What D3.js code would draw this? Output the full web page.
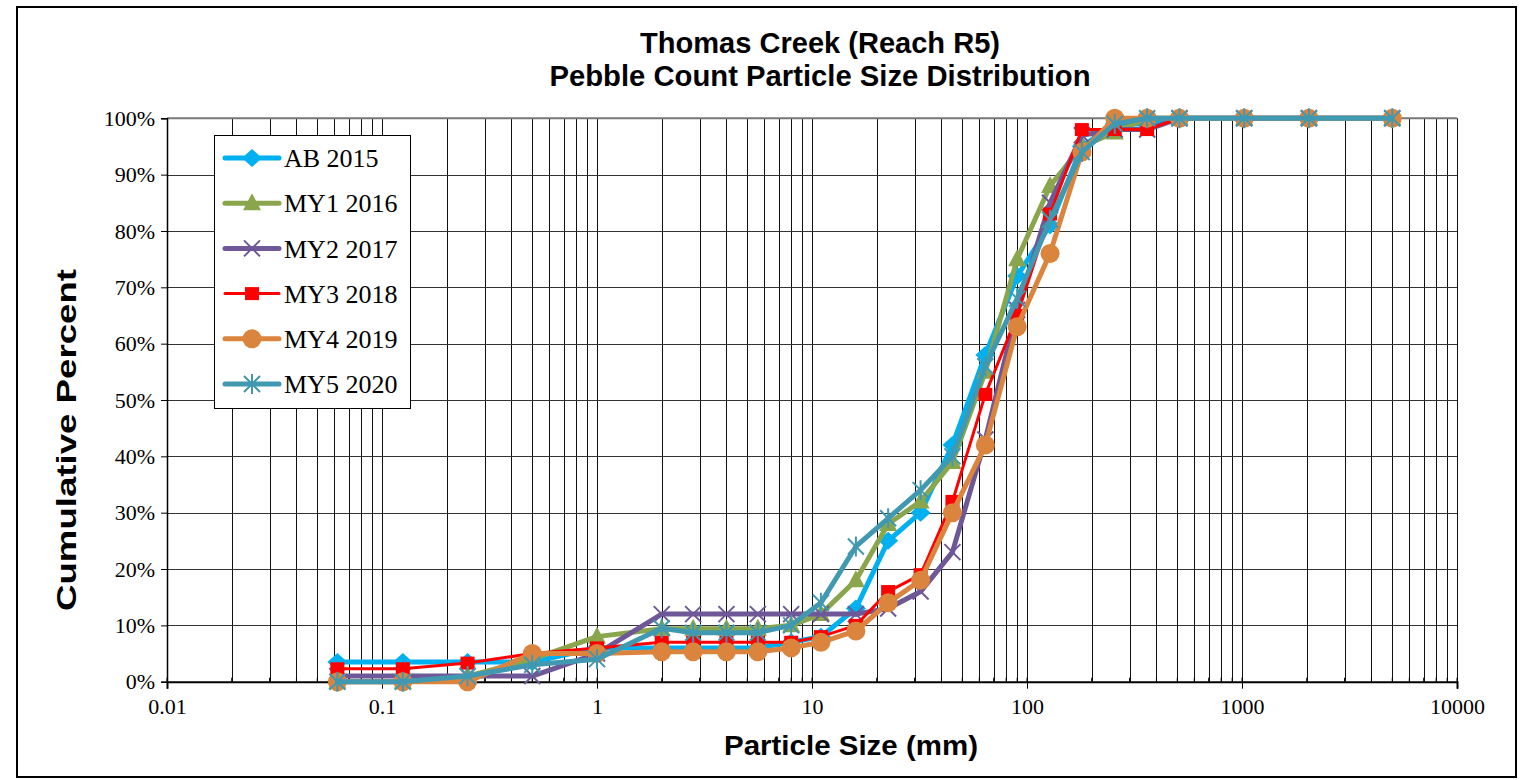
<!DOCTYPE html>
<html>
<head>
<meta charset="utf-8">
<script src="https://cdn.jsdelivr.net/npm/d3@7"></script>
<style>
  html, body { margin: 0; padding: 0; background: #fff; }
  svg { display: block; }
</style>
</head>
<body>
<svg id="chart" width="1523" height="780"></svg>
<script>
// ---------- DATA ----------
const title1 = "Thomas Creek (Reach R5)";
const title2 = "Pebble Count Particle Size Distribution";
const xTitle = "Particle Size (mm)";
const yTitle = "Cumulative Percent";

const sizes = [0.062, 0.125, 0.25, 0.5, 1, 2, 2.8, 4, 5.6, 8, 11, 16, 22.6, 32, 45, 64, 90, 128, 180, 256, 362, 512, 1024, 2048, 5000];

const seriesNames = ["AB 2015", "MY1 2016", "MY2 2017", "MY3 2018", "MY4 2019", "MY5 2020"];

const ab2015  = [3.5, 3.5, 3.5, 3.5, 6, 6, 6, 6, 6, 7, 8, 13, 25, 30, 42, 58, 72, 81, 95, 99, 99, 100, 100, 100, 100];
const my12016 = [0, 0, 1, 4, 8, 9.4, 9.4, 9.4, 9.4, 10, 12, 18, 28, 32, 39, 55, 75, 88, 95, 97.5, 100, 100, 100, 100, 100];
const my22017 = [1, 1, 1, 1, 5, 12, 12, 12, 12, 12, 12, 12, 13, 16, 23, 43, 66, 85, 97, 98, 98, 100, 100, 100, 100];
const my32018 = [2.3, 2.3, 3.3, 5, 6, 7, 7, 7, 7, 7, 8, 10, 16, 19, 32, 51, 65, 83, 98, 98, 98, 100, 100, 100, 100];
const my42019 = [0, 0, 0, 5, 5, 5.3, 5.3, 5.3, 5.3, 6, 7, 9, 14, 18, 30, 42, 63, 76, 94, 100, 100, 100, 100, 100, 100];
const my52020 = [0, 0, 1, 3, 4, 9.5, 8.7, 8.7, 8.7, 10, 14, 24, 29, 34, 40, 56, 68, 82, 94, 99, 100, 100, 100, 100, 100];

const xTickValues = [0.01, 0.1, 1, 10, 100, 1000, 10000];
const xTickLabels = ["0.01", "0.1", "1", "10", "100", "1000", "10000"];
const yTickValues = [0, 10, 20, 30, 40, 50, 60, 70, 80, 90, 100];
const yTickLabels = ["0%", "10%", "20%", "30%", "40%", "50%", "60%", "70%", "80%", "90%", "100%"];

(function () {
// ---------- STYLE ----------
const styles = [
  { color: "#00B0F0", width: 5, marker: "diamond" },
  { color: "#8AA64C", width: 5, marker: "triangle" },
  { color: "#6F5897", width: 5, marker: "x" },
  { color: "#FF0000", width: 3, marker: "square" },
  { color: "#DB843D", width: 5, marker: "circle" },
  { color: "#4099B1", width: 5, marker: "star" }
];
const allValues = [ab2015, my12016, my22017, my32018, my42019, my52020];

const svg = d3.select("#chart");
const serif = "'Liberation Serif', 'Times New Roman', serif";
const sans = "'Liberation Sans', Arial, sans-serif";

const pLeft = 167, pRight = 1457, pTop = 118.3, pBottom = 681.7;
const x = d3.scaleLog().domain([0.01, 10000]).range([pLeft, pRight]);
const y = d3.scaleLinear().domain([0, 100]).range([pBottom, pTop]);

// outer frame
svg.append("rect").attr("x", 17).attr("y", 7).attr("width", 1499).attr("height", 770)
  .attr("fill", "#fff").attr("stroke", "#000").attr("stroke-width", 2);

// gridlines
const minorVals = [];
for (let e = -2; e < 4; e++) for (let m = 1; m <= 9; m++) minorVals.push(m * Math.pow(10, e));
minorVals.push(10000);
const grid = svg.append("g");
grid.selectAll("line.v").data(minorVals).join("line")
  .attr("x1", d => Math.round(x(d)) + 0.5).attr("x2", d => Math.round(x(d)) + 0.5)
  .attr("y1", pTop).attr("y2", pBottom)
  .attr("stroke", "#111").attr("stroke-width", 1);
grid.selectAll("line.h").data(yTickValues).join("line")
  .attr("x1", pLeft).attr("x2", pRight)
  .attr("y1", d => Math.round(y(d)) + 0.5).attr("y2", d => Math.round(y(d)) + 0.5)
  .attr("stroke", "#333").attr("stroke-width", 1.2);
svg.append("line").attr("x1", pLeft).attr("x2", pRight).attr("y1", pTop).attr("y2", pTop)
  .attr("stroke", "#777").attr("stroke-width", 2);

// axes
const yAxis = d3.axisLeft(y).tickValues(yTickValues).tickFormat((d, i) => yTickLabels[i]).tickSize(6).tickPadding(6);
const gy = svg.append("g").attr("transform", `translate(${pLeft},0)`).call(yAxis);
gy.select(".domain").attr("stroke", "#000").attr("stroke-width", 1.5);
gy.selectAll(".tick line").attr("stroke", "#000");
gy.selectAll("text").attr("font-family", serif).attr("font-size", 22).attr("fill", "#000");

const xAxis = d3.axisBottom(x).tickValues(xTickValues).tickFormat((d, i) => xTickLabels[i]).tickSize(7).tickPadding(10);
const gx = svg.append("g").attr("transform", `translate(0,${pBottom})`).call(xAxis);
gx.select(".domain").attr("stroke", "#000").attr("stroke-width", 2);
gx.selectAll(".tick line").attr("stroke", "#000");
gx.selectAll("text").attr("font-family", serif).attr("font-size", 22).attr("fill", "#000");
svg.append("g").selectAll("line").data(minorVals).join("line")
  .attr("x1", d => x(d)).attr("x2", d => x(d))
  .attr("y1", pBottom).attr("y2", pBottom - 4)
  .attr("stroke", "#000").attr("stroke-width", 1);

// markers
function drawMarker(g, type, color, cx, cy) {
  if (type === "diamond") {
    g.append("path").attr("d", `M${cx},${cy - 9}L${cx + 10},${cy}L${cx},${cy + 9}L${cx - 10},${cy}Z`).attr("fill", color);
  } else if (type === "triangle") {
    g.append("path").attr("d", `M${cx},${cy - 10}L${cx + 9},${cy + 7}L${cx - 9},${cy + 7}Z`).attr("fill", color);
  } else if (type === "square") {
    g.append("rect").attr("x", cx - 7).attr("y", cy - 6.5).attr("width", 14).attr("height", 13).attr("fill", color);
  } else if (type === "circle") {
    g.append("circle").attr("cx", cx).attr("cy", cy).attr("r", 9.5).attr("fill", color);
  } else if (type === "x") {
    g.append("path").attr("d", `M${cx - 8},${cy - 8}L${cx + 8},${cy + 8}M${cx - 8},${cy + 8}L${cx + 8},${cy - 8}`)
      .attr("stroke", color).attr("stroke-width", 2).attr("fill", "none");
  } else if (type === "star") {
    g.append("path").attr("d", `M${cx - 8},${cy - 8}L${cx + 8},${cy + 8}M${cx - 8},${cy + 8}L${cx + 8},${cy - 8}M${cx},${cy - 10}L${cx},${cy + 10}`)
      .attr("stroke", color).attr("stroke-width", 2).attr("fill", "none");
  }
}

// series
const lineGen = d3.line().x(d => x(d[0])).y(d => y(d[1]));
allValues.forEach((vals, si) => {
  const st = styles[si];
  const pts = sizes.map((s, i) => [s, vals[i]]);
  const g = svg.append("g");
  g.append("path").datum(pts).attr("d", lineGen)
    .attr("fill", "none").attr("stroke", st.color).attr("stroke-width", st.width)
    .attr("stroke-linejoin", "round").attr("stroke-linecap", "round");
  pts.forEach(p => drawMarker(g, st.marker, st.color, x(p[0]), y(p[1])));
});

// legend
const lg = svg.append("g");
lg.append("rect").attr("x", 214.5).attr("y", 135.5).attr("width", 196).attr("height", 273)
  .attr("fill", "#fff").attr("stroke", "#000").attr("stroke-width", 1);
seriesNames.forEach((name, i) => {
  const st = styles[i];
  const cy = 158 + i * 45.2;
  lg.append("line").attr("x1", 225).attr("x2", 279).attr("y1", cy).attr("y2", cy)
    .attr("stroke", st.color).attr("stroke-width", st.width).attr("stroke-linecap", "round");
  drawMarker(lg, st.marker, st.color, 252, cy);
  lg.append("text").attr("x", 284).attr("y", cy).attr("dy", "0.35em")
    .attr("font-family", serif).attr("font-size", 26).attr("fill", "#000").text(name);
});

// titles
svg.append("text").attr("x", 820).attr("y", 53).attr("text-anchor", "middle")
  .attr("font-family", sans).attr("font-weight", "bold").attr("font-size", 29)
  .attr("textLength", 360).attr("lengthAdjust", "spacingAndGlyphs").text(title1);
svg.append("text").attr("x", 820).attr("y", 86).attr("text-anchor", "middle")
  .attr("font-family", sans).attr("font-weight", "bold").attr("font-size", 29)
  .attr("textLength", 541).attr("lengthAdjust", "spacingAndGlyphs").text(title2);
svg.append("text").attr("x", 851).attr("y", 755).attr("text-anchor", "middle")
  .attr("font-family", sans).attr("font-weight", "bold").attr("font-size", 28)
  .attr("textLength", 254).attr("lengthAdjust", "spacingAndGlyphs").text(xTitle);
svg.append("text").attr("transform", "translate(76,440) rotate(-90)").attr("text-anchor", "middle")
  .attr("font-family", sans).attr("font-weight", "bold").attr("font-size", 28)
  .attr("textLength", 342).attr("lengthAdjust", "spacingAndGlyphs").text(yTitle);
})();
</script>
</body>
</html>
